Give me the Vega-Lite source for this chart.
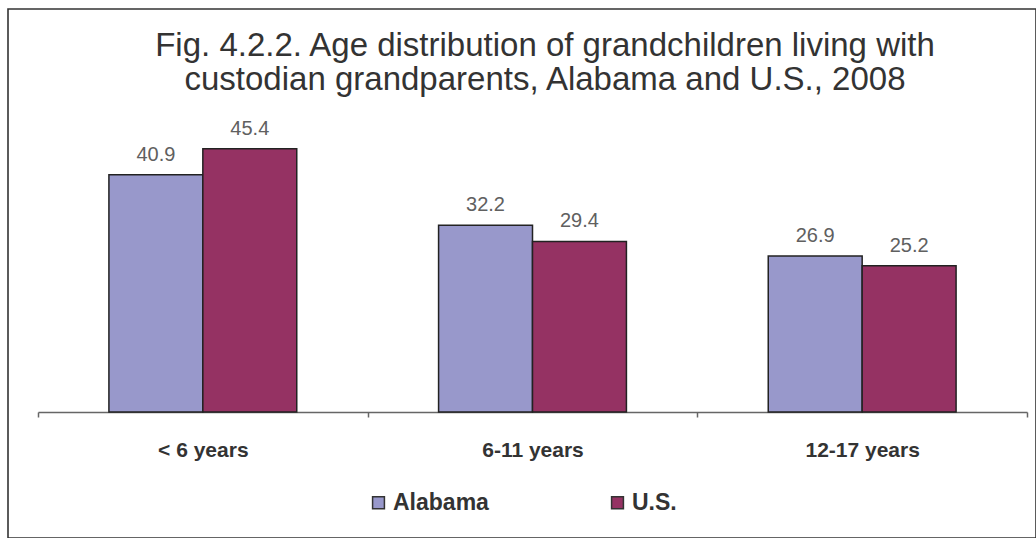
{
  "$schema": "https://vega.github.io/schema/vega-lite/v6.json",
  "width": 1028,
  "height": 529,
  "autosize": {"type": "none"},
  "padding": {"left": 8, "top": 9, "right": 0, "bottom": 0},
  "background": "white",
  "config": {
    "view": {"stroke": "#333333", "strokeWidth": 1.6},
    "font": "Liberation Sans"
  },
  "title": {
    "text": [
      "Fig. 4.2.2. Age distribution of grandchildren living with",
      "custodian grandparents, Alabama and U.S., 2008"
    ],
    "font": "Liberation Sans",
    "fontSize": 33,
    "fontWeight": "normal",
    "color": "#333333",
    "anchor": "middle",
    "dx": 23,
    "offset": -88,
    "lineHeight": 34
  },
  "data": {
    "values": [
      {"age": "< 6 years", "area": "Alabama", "pct": 40.9},
      {"age": "< 6 years", "area": "U.S.", "pct": 45.4},
      {"age": "6-11 years", "area": "Alabama", "pct": 32.2},
      {"age": "6-11 years", "area": "U.S.", "pct": 29.4},
      {"age": "12-17 years", "area": "Alabama", "pct": 26.9},
      {"age": "12-17 years", "area": "U.S.", "pct": 25.2}
    ]
  },
  "encoding": {
    "x": {
      "field": "age",
      "type": "nominal",
      "sort": ["< 6 years", "6-11 years", "12-17 years"],
      "scale": {"range": [30, 1019], "paddingInner": 0, "paddingOuter": 0},
      "axis": {
        "orient": "bottom",
        "offset": -126,
        "title": null,
        "labelAngle": 0,
        "grid": false,
        "domainColor": "#666666",
        "domainWidth": 1.5,
        "tickColor": "#666666",
        "tickWidth": 1.5,
        "tickSize": 5,
        "tickBand": "extent",
        "labelFont": "Liberation Sans",
        "labelFontSize": 21,
        "labelFontWeight": "bold",
        "labelColor": "#333333",
        "labelPadding": 22
      }
    },
    "xOffset": {
      "field": "area",
      "type": "nominal",
      "sort": ["Alabama", "U.S."],
      "scale": {"paddingInner": 0, "paddingOuter": 0.755}
    },
    "y": {
      "field": "pct",
      "type": "quantitative",
      "scale": {"domain": [-21.7241, 69.4828], "nice": false, "zero": false},
      "axis": null
    }
  },
  "layer": [
    {
      "mark": {"type": "bar", "stroke": "#222222", "strokeWidth": 1.5},
      "encoding": {
        "y2": {"datum": 0},
        "color": {
          "field": "area",
          "type": "nominal",
          "sort": ["Alabama", "U.S."],
          "scale": {"domain": ["Alabama", "U.S."], "range": ["#9898cb", "#953263"]},
          "legend": {
            "title": null,
            "orient": "none",
            "legendX": 359,
            "legendY": 482,
            "direction": "horizontal",
            "padding": 0,
            "symbolType": "square",
            "symbolSize": 140,
            "symbolStrokeColor": "#333333",
            "symbolStrokeWidth": 1.5,
            "symbolOpacity": 1,
            "labelFont": "Liberation Sans",
            "labelFontSize": 23,
            "labelFontWeight": "bold",
            "labelColor": "#333333",
            "labelOffset": 3,
            "columnPadding": 117
          }
        }
      }
    },
    {
      "mark": {
        "type": "text",
        "dy": -14,
        "baseline": "alphabetic",
        "font": "Liberation Sans",
        "fontSize": 20,
        "color": "#606060"
      },
      "encoding": {
        "text": {"field": "pct", "type": "quantitative", "format": ".1f"}
      }
    }
  ]
}
